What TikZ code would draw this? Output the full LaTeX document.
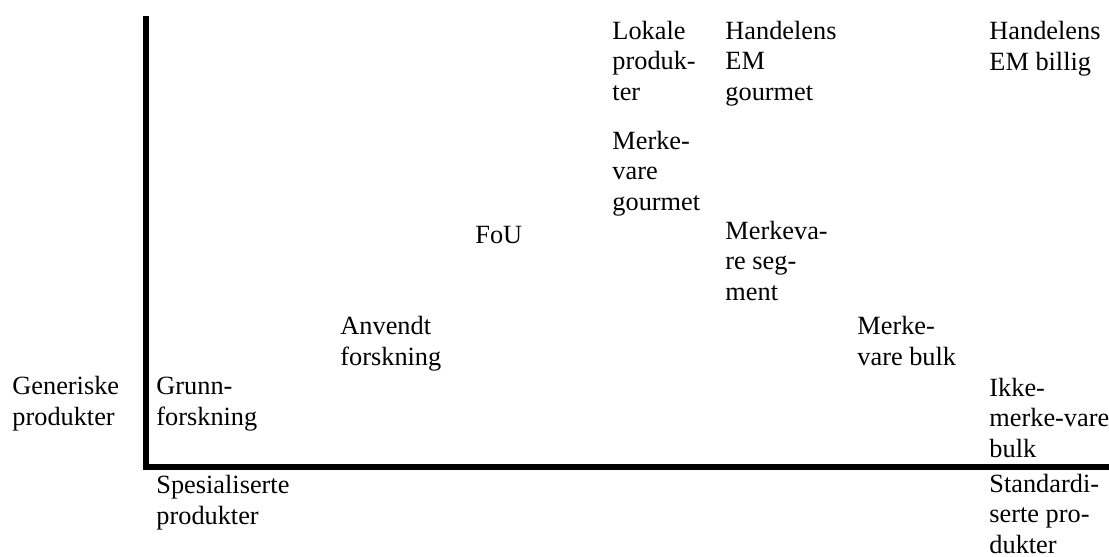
\documentclass[tikz,border=0pt]{standalone}
\usepackage{fontspec}
\setmainfont{Liberation Serif}
\begin{document}
\begin{tikzpicture}[x=0.456pt,y=-0.456pt,
    lbl/.style={anchor=base west,inner sep=0pt,align=left,font=\fontsize{12pt}{13.7pt}\selectfont}]
    \useasboundingbox (0,0) rectangle (1109,556);
    % axes
    \coordinate (top) at (146,16);
    \coordinate (origo) at (146,467);
    \coordinate (right) at (1109,467);
    \draw[line width=2.7pt] (top) -- (origo) -- (right);
    % axis texts (placed at the base of the last line)
    \node[lbl] (generisk) at (12,425) {Generiske\\produkter};
    \node[lbl] (spesial) at (156,524) {Spesialiserte\\produkter};
    \node[lbl] (standard) at (989,553) {Standardi-\\serte pro-\\dukter};
    % items
    \node[lbl] (grunn) at (156,425) {Grunn-\\forskning};
    \node[lbl] (anvendt) at (340,365) {Anvendt\\forskning};
    \node[lbl] (fou) at (475,243) {FoU};
    \node[lbl] (lokale) at (612,100) {Lokale\\produk-\\ter};
    \node[lbl] (mvgourmet) at (612,210) {Merke-\\vare\\gourmet};
    \node[lbl] (emgourmet) at (725,100) {Handelens\\EM\\gourmet};
    \node[lbl] (segment) at (725,300) {Merkeva-\\re seg-\\ment};
    \node[lbl] (mvbulk) at (857,365) {Merke-\\vare bulk};
    \node[lbl] (embillig) at (989,70) {Handelens\\EM billig};
    \node[lbl] (ikkebulk) at (989,457) {Ikke-\\merke-vare\\bulk};
\end{tikzpicture}
\end{document}
